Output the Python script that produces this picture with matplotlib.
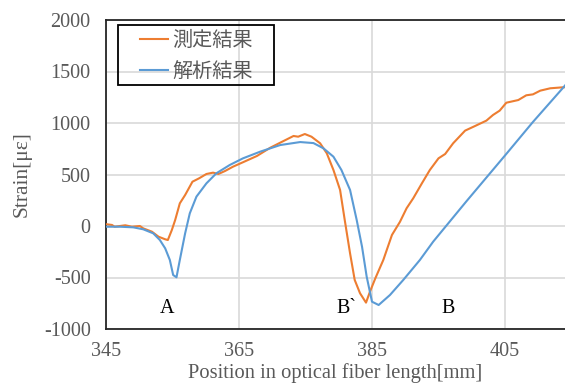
import matplotlib
matplotlib.use("Agg")
import matplotlib.pyplot as plt
from matplotlib.patches import Rectangle

plt.rcParams["axes.unicode_minus"] = False

# Measured (orange)
meas_x = [345.1, 345.9, 346.3, 347.9, 348.9, 350.1, 350.6, 351.9, 352.9, 353.9, 354.3,
          354.9, 355.4, 356.1, 356.9, 358.0, 359.0, 360.1, 361.1, 361.9, 362.9, 364.1,
          365.6, 367.7, 369.7, 371.2, 373.2, 373.9, 374.9, 375.9, 377.2, 378.2, 379.2,
          380.2, 380.9, 381.7, 382.4, 383.2, 384.1, 384.7, 385.5, 386.7, 388.0, 389.2,
          390.2, 391.2, 392.5, 393.7, 395.0, 396.0, 397.2, 399.0, 400.5, 402.2, 403.2,
          404.2, 405.2, 407.0, 408.2, 409.2, 410.3, 411.8, 413.8, 414.5]
meas_y = [17, 10, -7, 7, -7, 0, -23, -55, -104, -129, -136,
          -39, 58, 220, 301, 430, 463, 505, 518, 505, 534, 576,
          619, 680, 760, 809, 874, 867, 893, 867, 803, 706, 544,
          350, 58, -265, -524, -653, -744, -637, -508, -330, -87, 40,
          172, 269, 414, 544, 657, 699, 803, 926, 971, 1023, 1078,
          1120, 1197, 1223, 1269, 1278, 1314, 1337, 1347, 1348]

# Analysis (blue)
anal_x = [345.1, 347.1, 349.1, 350.6, 352.1, 353.1, 353.9, 354.6, 355.1, 355.6, 356.1,
          356.9, 357.6, 358.6, 360.1, 361.6, 363.6, 365.6, 368.2, 371.2, 374.2, 376.2,
          377.7, 379.2, 380.4, 381.7, 382.7, 383.5, 384.2, 385.0, 386.0, 387.7, 389.7,
          392.2, 394.2, 399.2, 405.2, 409.2, 413.8, 414.5]
anal_y = [-7, -7, -13, -32, -71, -136, -217, -330, -476, -498, -330,
          -71, 123, 285, 414, 512, 592, 657, 722, 786, 815, 805,
          754, 673, 544, 350, 58, -201, -492, -735, -767, -670, -524,
          -330, -152, 240, 700, 1010, 1347, 1400]

series_names = ["測定結果", "解析結果"]
x_ticks = [345, 365, 385, 405]
y_ticks = [-1000, -500, 0, 500, 1000, 1500, 2000]
annotations = [("A", 354.2, -800), ("B`", 381.2, -800), ("B", 396.4, -800)]

gray = "#595959"
W, H = 565, 392
fig = plt.figure(figsize=(W/100, H/100), dpi=100)
ax = fig.add_axes([106/W, 1-329/H, 1-106/W, (329-20)/H])

ax.plot(meas_x, meas_y, color="#ED7D31", lw=1.5, label=series_names[0], zorder=3)
ax.plot(anal_x, anal_y, color="#5B9BD5", lw=1.5, label=series_names[1], zorder=3)

ax.set_xlim(345, 345 + 459/6.65)
ax.set_ylim(-1000, 2000)
ax.set_xticks(x_ticks)
ax.set_yticks(y_ticks)
ax.grid(True, color="#d9d9d9", lw=1.2)
ax.set_axisbelow(True)
ax.tick_params(length=0, labelsize=14.5, labelcolor=gray)
ax.tick_params(axis="y", pad=11)
ax.tick_params(axis="x", pad=9)
for lab in ax.get_xticklabels() + ax.get_yticklabels():
    lab.set_family("Liberation Serif")
ax.spines["right"].set_visible(False)
for s in ["left", "top", "bottom"]:
    ax.spines[s].set_color("#262626")
    ax.spines[s].set_linewidth(1.3)

ax.set_xlabel("Position in optical fiber length[mm]", family="Liberation Serif",
              fontsize=14.8, color=gray, labelpad=2)
ax.set_ylabel("Strain[με]", family="Liberation Serif", fontsize=15.5, color=gray, labelpad=9)

for txt, x, y in annotations:
    ax.text(x, y, txt, family="Liberation Serif", fontsize=14.5, color="black",
            ha="center", va="center")

leg = ax.legend(loc="upper left", prop={"family": ["Noto Sans CJK JP", "DejaVu Sans"], "size": 14.5},
                frameon=False, handlelength=1.4, handletextpad=0.2,
                borderpad=0, labelspacing=0.5, borderaxespad=0,
                bbox_to_anchor=(140/W, 1-30/H), bbox_transform=fig.transFigure)
for t in leg.get_texts():
    t.set_color(gray)
fig.patches.append(Rectangle((118/W, 1-85/H), (274-118)/W, (85-25)/H,
                             transform=fig.transFigure, fill=False,
                             edgecolor="black", lw=1.3, zorder=5))

fig.savefig("out.png", dpi=100)
